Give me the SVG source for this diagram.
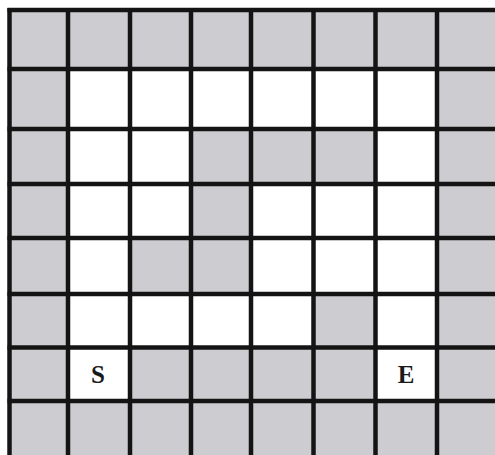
<svg xmlns="http://www.w3.org/2000/svg" width="495" height="455" viewBox="0 0 495 455">
  <style>
    .wall { fill: #cdcdd1; }
    .open { fill: #ffffff; }
    .grid line { stroke: #141414; stroke-width: 4.5; }
    .lbl { font-family: "Liberation Serif", "Times New Roman", serif; font-weight: bold; font-size: 25px; fill: #1a1a1a; text-anchor: middle; }
  </style>
  <rect x="0" y="0" width="495" height="455" fill="#ffffff"/>
  <g id="walls">
    <rect class="wall" x="9.5" y="10" width="485.5" height="445"/>
  </g>
  <g id="open-cells">
    <rect class="open" x="68" y="69" width="369" height="60"/>
    <rect class="open" x="68" y="129" width="123" height="55"/>
    <rect class="open" x="375.5" y="129" width="61.5" height="55"/>
    <rect class="open" x="68" y="184" width="123" height="54"/>
    <rect class="open" x="251" y="184" width="186" height="54"/>
    <rect class="open" x="68" y="238" width="62" height="56"/>
    <rect class="open" x="251" y="238" width="186" height="56"/>
    <rect class="open" x="68" y="294" width="245.5" height="53.5"/>
    <rect class="open" x="375.5" y="294" width="61.5" height="53.5"/>
  </g>
  <g id="start">
    <rect class="open" x="68" y="347.5" width="62" height="53.5"/>
    <text class="lbl" x="98" y="383">S</text>
  </g>
  <g id="end">
    <rect class="open" x="375.5" y="347.5" width="61.5" height="53.5"/>
    <text class="lbl" x="406" y="383">E</text>
  </g>
  <g id="connectors" class="grid">
    <line x1="9.5" y1="8" x2="9.5" y2="455"/>
    <line x1="68" y1="8" x2="68" y2="455"/>
    <line x1="130" y1="8" x2="130" y2="455"/>
    <line x1="191" y1="8" x2="191" y2="455"/>
    <line x1="251" y1="8" x2="251" y2="455"/>
    <line x1="313.5" y1="8" x2="313.5" y2="455"/>
    <line x1="375.5" y1="8" x2="375.5" y2="455"/>
    <line x1="437" y1="8" x2="437" y2="455"/>
    <line x1="7.5" y1="10" x2="495" y2="10"/>
    <line x1="7.5" y1="69" x2="495" y2="69"/>
    <line x1="7.5" y1="129" x2="495" y2="129"/>
    <line x1="7.5" y1="184" x2="495" y2="184"/>
    <line x1="7.5" y1="238" x2="495" y2="238"/>
    <line x1="7.5" y1="294" x2="495" y2="294"/>
    <line x1="7.5" y1="347.5" x2="495" y2="347.5"/>
    <line x1="7.5" y1="401" x2="495" y2="401"/>
  </g>
</svg>
